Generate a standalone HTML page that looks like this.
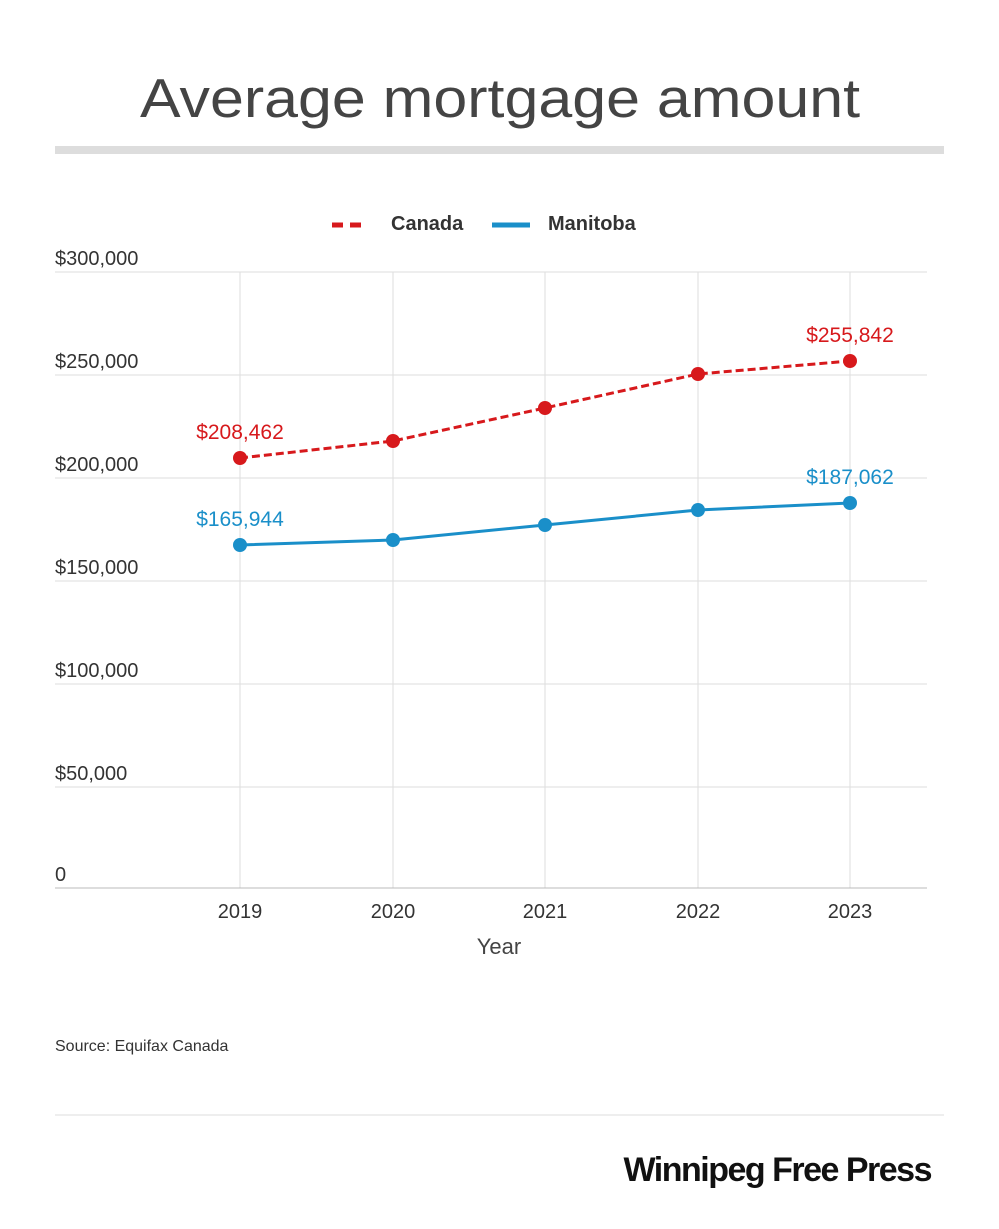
<!DOCTYPE html>
<html><head><meta charset="utf-8"><style>
body{margin:0;background:#fff;}
svg{display:block;font-family:"Liberation Sans",sans-serif;}
</style></head><body>
<svg width="999" height="1229" viewBox="0 0 999 1229" xmlns="http://www.w3.org/2000/svg">
<rect width="999" height="1229" fill="#fff"/>
<text x="140" y="117" font-size="55" fill="#444" textLength="720" lengthAdjust="spacingAndGlyphs">Average mortgage amount</text>
<rect x="55" y="146" width="889" height="8" fill="#ddd"/>
<line x1="332" y1="225" x2="368" y2="225" stroke="#d7191c" stroke-width="5" stroke-dasharray="11,7"/>
<text x="391" y="230" font-size="20" fill="#333" font-weight="bold" style="font-weight:600">Canada</text>
<line x1="492" y1="225" x2="530" y2="225" stroke="#1a8fc9" stroke-width="5"/>
<text x="548" y="230" font-size="20" fill="#333" style="font-weight:600">Manitoba</text>
<g stroke="#ddd" stroke-width="1">
<line x1="55" y1="272" x2="927" y2="272"/><line x1="55" y1="375" x2="927" y2="375"/>
<line x1="55" y1="478" x2="927" y2="478"/><line x1="55" y1="581" x2="927" y2="581"/>
<line x1="55" y1="684" x2="927" y2="684"/><line x1="55" y1="787" x2="927" y2="787"/>
<line x1="240" y1="272" x2="240" y2="888"/><line x1="393" y1="272" x2="393" y2="888"/>
<line x1="545" y1="272" x2="545" y2="888"/><line x1="698" y1="272" x2="698" y2="888"/>
<line x1="850" y1="272" x2="850" y2="888"/>
</g>
<line x1="55" y1="888" x2="927" y2="888" stroke="#bbb"/>
<g font-size="20" fill="#333">
<text x="55" y="265">$300,000</text><text x="55" y="368">$250,000</text>
<text x="55" y="471">$200,000</text><text x="55" y="574">$150,000</text>
<text x="55" y="677">$100,000</text><text x="55" y="780">$50,000</text>
<text x="55" y="881">0</text>
</g>
<g font-size="20" fill="#333" text-anchor="middle">
<text x="240" y="918">2019</text><text x="393" y="918">2020</text><text x="545" y="918">2021</text>
<text x="698" y="918">2022</text><text x="850" y="918">2023</text>
<text x="499" y="954" font-size="22" fill="#444">Year</text>
</g>
<polyline points="240,458 393,441 545,408 698,374 850,361" fill="none" stroke="#d7191c" stroke-width="3" stroke-dasharray="8,4"/>
<g fill="#d7191c"><circle cx="240" cy="458" r="7"/><circle cx="393" cy="441" r="7"/><circle cx="545" cy="408" r="7"/><circle cx="698" cy="374" r="7"/><circle cx="850" cy="361" r="7"/></g>
<polyline points="240,545 393,540 545,525 698,510 850,503" fill="none" stroke="#1a8fc9" stroke-width="3"/>
<g fill="#1a8fc9"><circle cx="240" cy="545" r="7"/><circle cx="393" cy="540" r="7"/><circle cx="545" cy="525" r="7"/><circle cx="698" cy="510" r="7"/><circle cx="850" cy="503" r="7"/></g>
<g font-size="21" text-anchor="middle">
<text x="240" y="439" fill="#d7191c">$208,462</text>
<text x="850" y="342" fill="#d7191c">$255,842</text>
<text x="240" y="526" fill="#1a8fc9">$165,944</text>
<text x="850" y="484" fill="#1a8fc9">$187,062</text>
</g>
<text x="55" y="1051" font-size="16" fill="#333">Source: Equifax Canada</text>
<line x1="55" y1="1115" x2="944" y2="1115" stroke="#ddd"/>
<text x="931" y="1181" text-anchor="end" font-size="34" font-weight="bold" fill="#111" letter-spacing="-1.5">Winnipeg Free Press</text>
</svg>
</body></html>
